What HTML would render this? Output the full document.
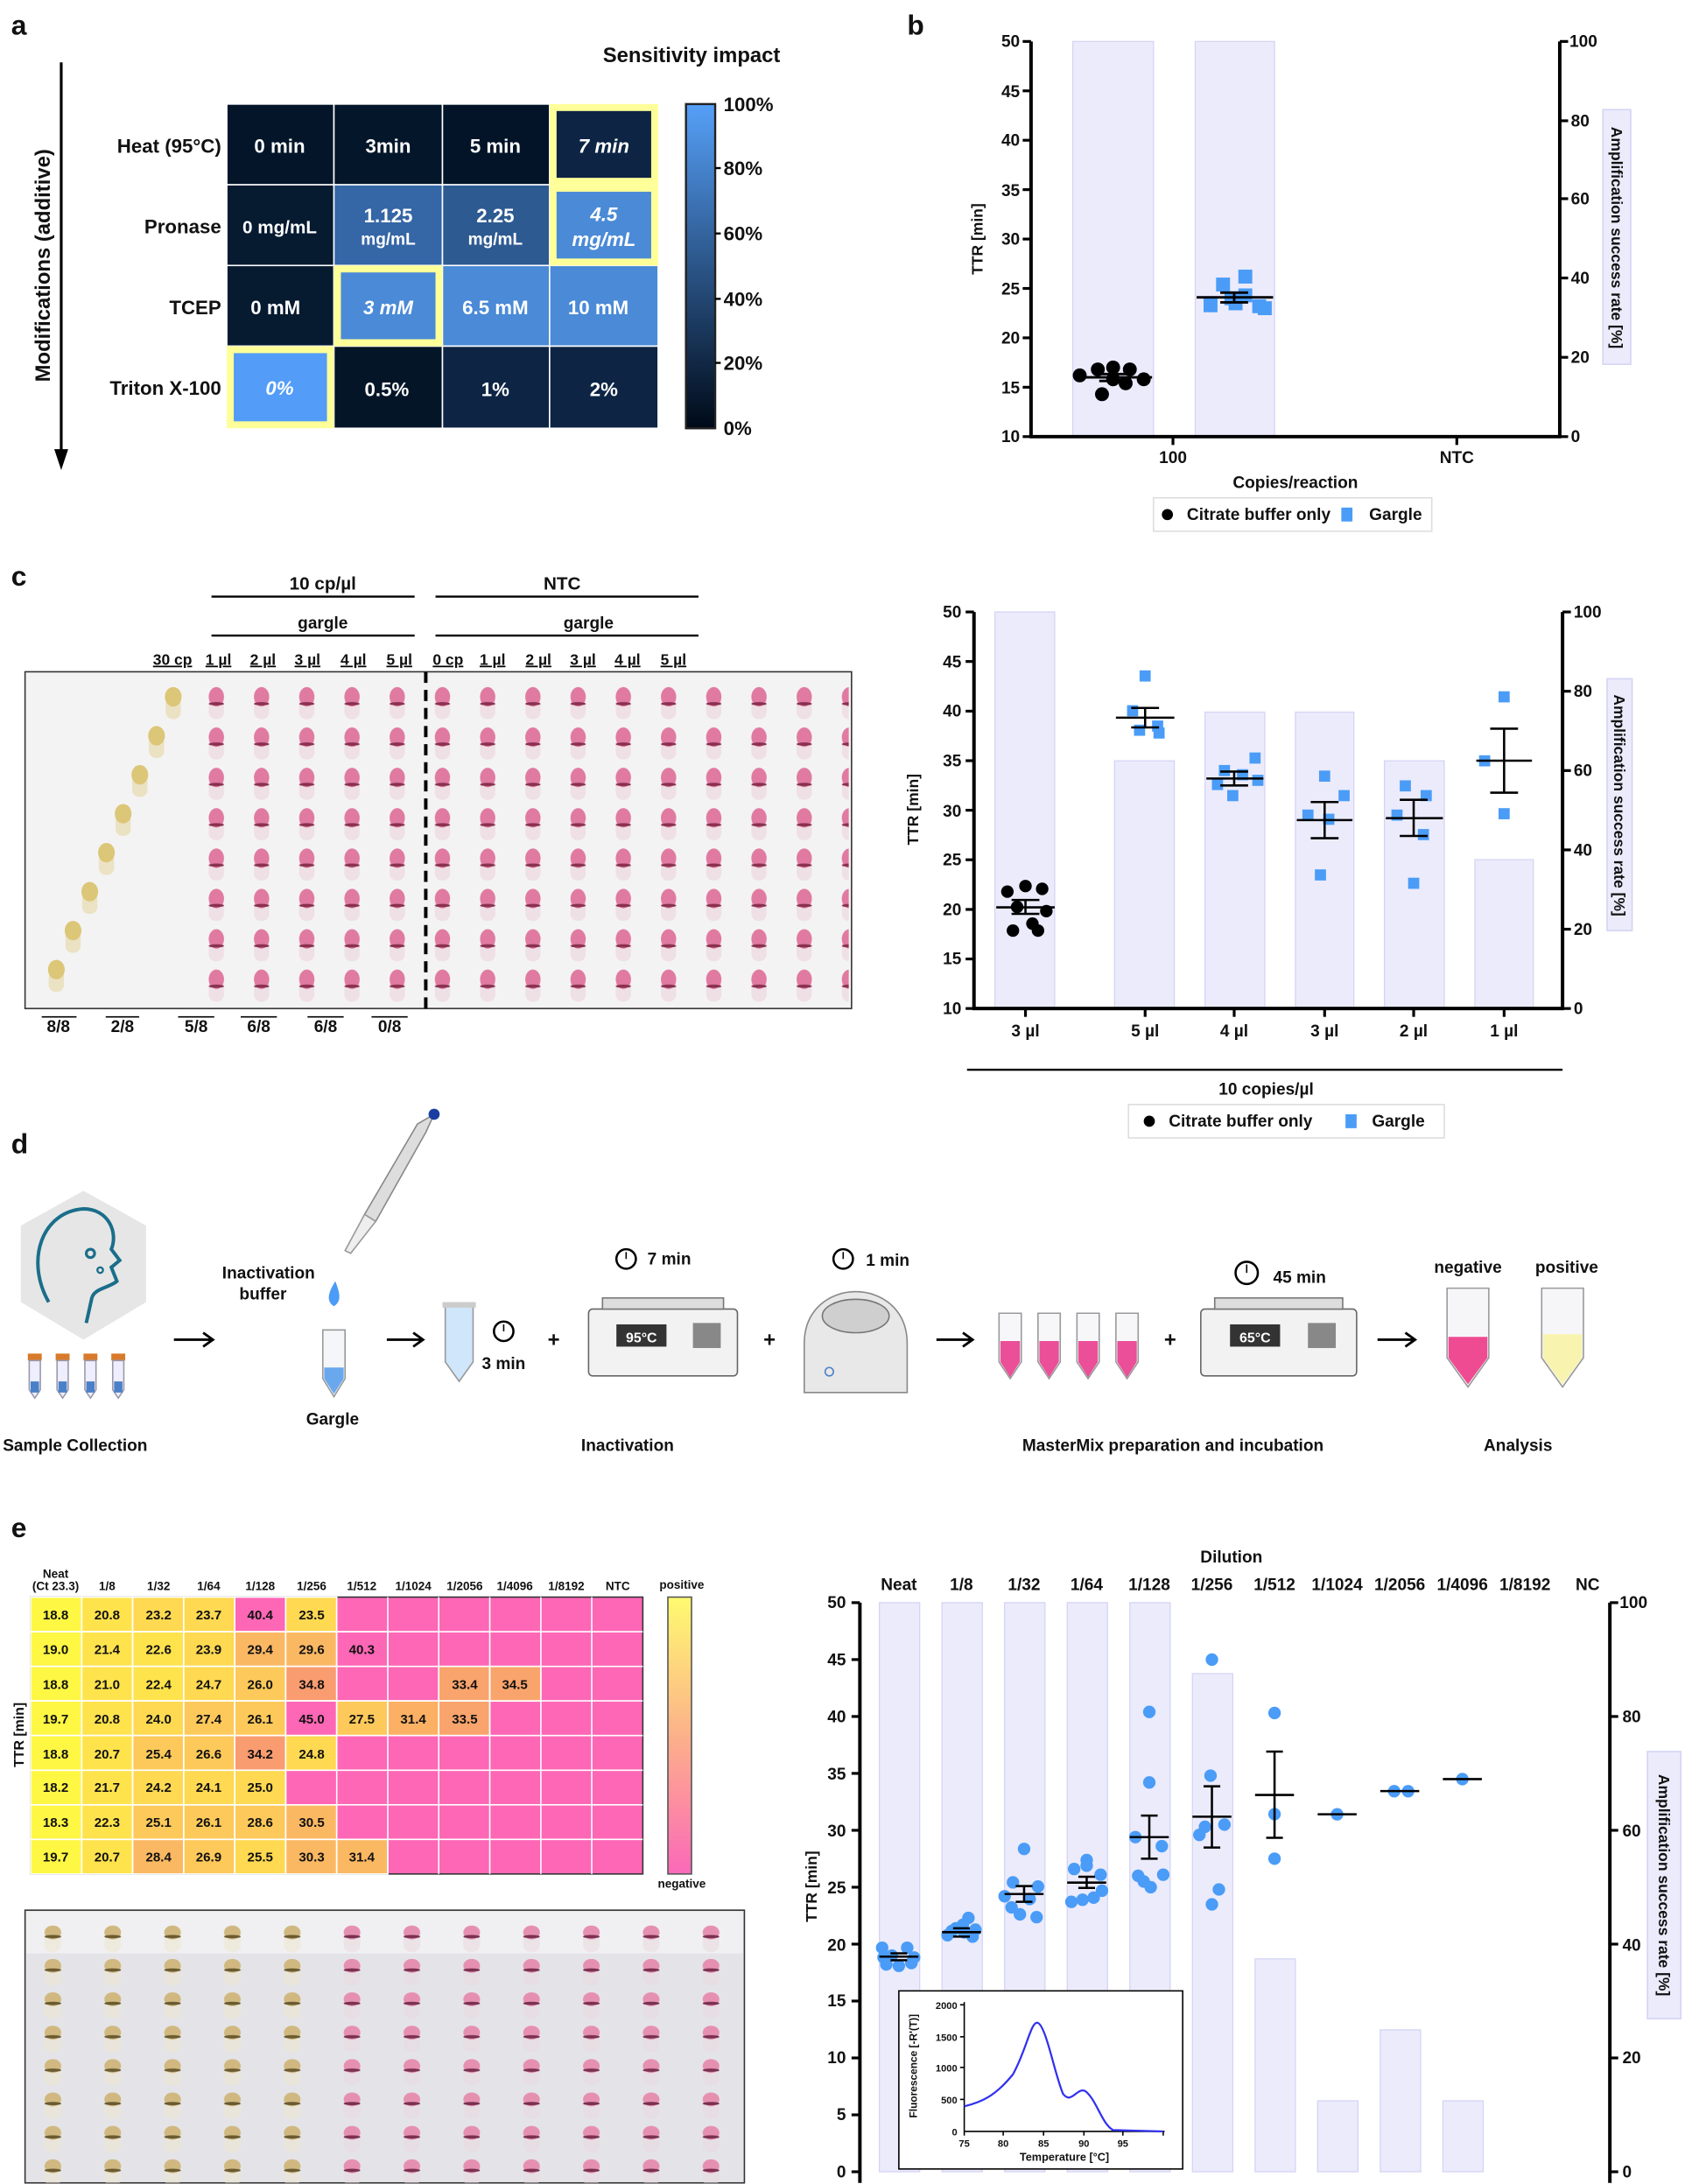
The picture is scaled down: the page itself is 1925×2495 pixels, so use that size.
<!DOCTYPE html>
<html><head><meta charset="utf-8"><style>
html,body{margin:0;padding:0;background:#fff;}
svg{display:block;}
text{font-family:"Liberation Sans",Arial,sans-serif;font-weight:bold;fill:#111;}
text.w{fill:#fff;}
.n{font-stretch:condensed;}
</style></head><body>
<svg width="1925" height="2495" viewBox="0 0 1211 1568" xmlns="http://www.w3.org/2000/svg">
<defs>
<linearGradient id="cbA" x1="0" y1="1" x2="0" y2="0"><stop offset="0" stop-color="#000a18"/><stop offset="1" stop-color="#56a0f8"/></linearGradient>
<linearGradient id="cbE" x1="0" y1="0" x2="0" y2="1"><stop offset="0" stop-color="#fffa70"/><stop offset="0.5" stop-color="#fcb18a"/><stop offset="1" stop-color="#fb69b8"/></linearGradient>
<pattern id="tp" x="140" y="490" width="32.5" height="29" patternUnits="userSpaceOnUse">
<rect x="10" y="10" width="11" height="16" rx="5" fill="#ebd4dc" opacity="0.6"/><ellipse cx="15.5" cy="10" rx="5.5" ry="7" fill="#e07aa0"/><ellipse cx="15.5" cy="15" rx="5.5" ry="1.2" fill="#8a3050"/></pattern>
<pattern id="ep" x="20" y="1380" width="43" height="24" patternUnits="userSpaceOnUse">
<rect x="12" y="8" width="12" height="14" rx="5" fill="#eadbe0" opacity="0.6"/><ellipse cx="18" cy="8" rx="6" ry="5" fill="#e690b0"/><ellipse cx="18" cy="11" rx="6" ry="1.2" fill="#7a3050"/></pattern>
<pattern id="ey" x="20" y="1380" width="43" height="24" patternUnits="userSpaceOnUse">
<rect x="12" y="8" width="12" height="14" rx="5" fill="#eee6d0" opacity="0.6"/><ellipse cx="18" cy="8" rx="6" ry="5" fill="#d0b880"/><ellipse cx="18" cy="11" rx="6" ry="1.2" fill="#6a5a30"/></pattern>
</defs>

<!-- ===== PANEL A ===== -->
<text x="8" y="24" font-size="20">a</text>
<text x="497" y="44" font-size="15" text-anchor="middle" class="n">Sensitivity impact</text>
<line x1="44" y1="44" x2="44" y2="326" stroke="#000" stroke-width="2"/>
<path d="M39,322 L49,322 L44,337 z" fill="#000"/>
<text transform="translate(36,190) rotate(-90)" font-size="15" text-anchor="middle">Modifications (additive)</text>
<g stroke="#fff" stroke-width="1">
<rect x="163" y="74" width="77" height="58" fill="#04152a"/><rect x="240" y="74" width="78" height="58" fill="#041629"/><rect x="318" y="74" width="77" height="58" fill="#031428"/><rect x="395" y="74" width="78" height="58" fill="#0d2444"/>
<rect x="163" y="132" width="77" height="58" fill="#061a30"/><rect x="240" y="132" width="78" height="58" fill="#3566a6"/><rect x="318" y="132" width="77" height="58" fill="#2e5a92"/><rect x="395" y="132" width="78" height="58" fill="#4a8ad6"/>
<rect x="163" y="190" width="77" height="58" fill="#061a30"/><rect x="240" y="190" width="78" height="58" fill="#4a8ad6"/><rect x="318" y="190" width="77" height="58" fill="#4a8ad6"/><rect x="395" y="190" width="78" height="58" fill="#4a8ad6"/>
<rect x="163" y="248" width="77" height="59" fill="#539cf7"/><rect x="240" y="248" width="78" height="59" fill="#051528"/><rect x="318" y="248" width="77" height="59" fill="#0d2444"/><rect x="395" y="248" width="78" height="59" fill="#0d2444"/>
</g>
<g fill="none" stroke="#ffff99" stroke-width="5">
<rect x="397.5" y="76.5" width="73" height="53"/><rect x="397.5" y="134.5" width="73" height="53"/><rect x="242.5" y="192.5" width="73" height="53"/><rect x="165.5" y="250.5" width="72" height="54"/>
</g>
<g font-size="14" text-anchor="end" class="n"><text x="159" y="109">Heat (95°C)</text><text x="159" y="167">Pronase</text><text x="159" y="225">TCEP</text><text x="159" y="283">Triton X-100</text></g>
<g font-size="14" text-anchor="middle">
<text class="w n" x="201" y="109">0 min</text><text class="w n" x="279" y="109">3min</text><text class="w n" x="356" y="109">5 min</text><text class="w n" x="434" y="109" font-style="italic">7 min</text>
<text class="w n" x="201" y="167" font-size="13">0 mg/mL</text><text class="w n" x="279" y="159">1.125</text><text class="w n" x="279" y="175" font-size="12">mg/mL</text><text class="w n" x="356" y="159">2.25</text><text class="w n" x="356" y="175" font-size="12">mg/mL</text><text class="w n" x="434" y="158" font-style="italic">4.5</text><text class="w n" x="434" y="176" font-style="italic">mg/mL</text>
<text class="w n" x="198" y="225">0 mM</text><text class="w n" x="279" y="225" font-style="italic">3 mM</text><text class="w n" x="356" y="225">6.5 mM</text><text class="w n" x="430" y="225">10 mM</text>
<text class="w n" x="201" y="283" font-style="italic">0%</text><text class="w n" x="278" y="284">0.5%</text><text class="w n" x="356" y="284">1%</text><text class="w n" x="434" y="284">2%</text>
</g>
<rect x="493" y="74" width="21" height="233" fill="url(#cbA)" stroke="#222" stroke-width="1.5"/>
<g stroke="#000" stroke-width="1.5"><line x1="514" y1="120" x2="518" y2="120"/><line x1="514" y1="167" x2="518" y2="167"/><line x1="514" y1="214" x2="518" y2="214"/><line x1="514" y1="260" x2="518" y2="260"/></g>
<g font-size="14" class="n"><text x="520" y="79">100%</text><text x="520" y="125">80%</text><text x="520" y="172">60%</text><text x="520" y="219">40%</text><text x="520" y="265">20%</text><text x="520" y="312">0%</text></g>

<!-- ===== PANEL B ===== -->
<text x="652" y="24" font-size="20">b</text>
<rect x="771" y="29" width="58" height="284" fill="#ebebfc" stroke="#d4d4f4" stroke-width="0.8"/>
<rect x="859" y="29" width="57" height="284" fill="#ebebfc" stroke="#d4d4f4" stroke-width="0.8"/>
<g stroke="#000" stroke-width="2.5"><line x1="741" y1="29" x2="741" y2="314"/><line x1="740" y1="313" x2="1122" y2="313"/><line x1="1121" y1="29" x2="1121" y2="314"/></g>
<g stroke="#000" stroke-width="2">
<line x1="735" y1="29" x2="741" y2="29"/><line x1="735" y1="64.5" x2="741" y2="64.5"/><line x1="735" y1="100" x2="741" y2="100"/><line x1="735" y1="135.5" x2="741" y2="135.5"/><line x1="735" y1="171" x2="741" y2="171"/><line x1="735" y1="206.5" x2="741" y2="206.5"/><line x1="735" y1="242" x2="741" y2="242"/><line x1="735" y1="277.5" x2="741" y2="277.5"/><line x1="735" y1="313" x2="741" y2="313"/>
<line x1="1121" y1="29" x2="1127" y2="29"/><line x1="1121" y1="86" x2="1127" y2="86"/><line x1="1121" y1="142" x2="1127" y2="142"/><line x1="1121" y1="199" x2="1127" y2="199"/><line x1="1121" y1="256" x2="1127" y2="256"/><line x1="1121" y1="313" x2="1127" y2="313"/>
<line x1="843" y1="313" x2="843" y2="319"/><line x1="1047" y1="313" x2="1047" y2="319"/></g>
<g font-size="12" text-anchor="end" class="n"><text x="733" y="33">50</text><text x="733" y="69">45</text><text x="733" y="104">40</text><text x="733" y="140">35</text><text x="733" y="175">30</text><text x="733" y="211">25</text><text x="733" y="246">20</text><text x="733" y="282">15</text><text x="733" y="317">10</text></g>
<g font-size="12" class="n"><text x="1128" y="33">100</text><text x="1129" y="90">80</text><text x="1129" y="146">60</text><text x="1129" y="203">40</text><text x="1129" y="260">20</text><text x="1129" y="317">0</text></g>
<text x="843" y="332" font-size="12" text-anchor="middle" class="n">100</text><text x="1047" y="332" font-size="12" text-anchor="middle" class="n">NTC</text>
<text x="931" y="350" font-size="12" text-anchor="middle" class="n">Copies/reaction</text>
<text transform="translate(706,171) rotate(-90)" font-size="11" text-anchor="middle" font-weight="normal">TTR [min]</text>
<rect x="1152" y="78" width="20" height="183" fill="#ebebfc" stroke="#d4d4f4"/>
<text transform="translate(1158,170) rotate(90)" font-size="11" text-anchor="middle" font-weight="normal">Amplification success rate [%]</text>
<rect x="829" y="357" width="200" height="24" fill="#fff" stroke="#ddd"/>
<circle cx="839" cy="369" r="4" fill="#000"/><text x="853" y="373" font-size="12" class="n">Citrate buffer only</text>
<rect x="964" y="364" width="8" height="10" fill="#4a9cf7"/><text x="984" y="373" font-size="12" class="n">Gargle</text>
<g fill="#4a9cf7">
<rect x="865" y="213.6" width="10" height="10"/><rect x="874" y="198.7" width="10" height="10"/><rect x="890" y="193" width="10" height="10"/><rect x="880" y="208.6" width="10" height="10"/><rect x="900" y="214.3" width="10" height="10"/><rect x="890" y="206.5" width="10" height="10"/><rect x="883" y="212.2" width="10" height="10"/><rect x="904" y="215.7" width="10" height="10"/></g>
<g fill="#000">
<circle cx="776" cy="269" r="5"/><circle cx="789" cy="264.7" r="5"/><circle cx="800" cy="263.3" r="5"/><circle cx="812" cy="264.7" r="5"/><circle cx="800" cy="271.8" r="5"/><circle cx="809" cy="274.7" r="5"/><circle cx="822" cy="271.8" r="5"/><circle cx="792" cy="282.5" r="5"/></g>
<g stroke="#000" stroke-width="1.8"><line x1="772" y1="270.4" x2="828" y2="270.4"/><line x1="790" y1="268" x2="810" y2="268"/><line x1="790" y1="273" x2="810" y2="273"/><line x1="860" y1="212.9" x2="915" y2="212.9"/><line x1="877" y1="209.5" x2="897" y2="209.5"/><line x1="877" y1="216.5" x2="897" y2="216.5"/><line x1="887" y1="209.5" x2="887" y2="216.5"/></g>

<!-- ===== PANEL C ===== -->
<text x="8" y="420" font-size="20">c</text>
<text x="232" y="423" font-size="13" text-anchor="middle">10 cp/µl</text><line x1="152" y1="428" x2="298" y2="428" stroke="#000" stroke-width="1.5"/>
<text x="232" y="451" font-size="12" text-anchor="middle">gargle</text><line x1="152" y1="456" x2="298" y2="456" stroke="#000" stroke-width="1.5"/>
<text x="404" y="423" font-size="13" text-anchor="middle">NTC</text><line x1="313" y1="428" x2="502" y2="428" stroke="#000" stroke-width="1.5"/>
<text x="423" y="451" font-size="12" text-anchor="middle">gargle</text><line x1="313" y1="456" x2="502" y2="456" stroke="#000" stroke-width="1.5"/>
<g font-size="11" text-anchor="middle" class="n" text-decoration="underline">
<text x="124" y="477">30 cp</text><text x="157" y="477">1 µl</text><text x="189" y="477">2 µl</text><text x="221" y="477">3 µl</text><text x="254" y="477">4 µl</text><text x="287" y="477">5 µl</text>
<text x="322" y="477">0 cp</text><text x="354" y="477">1 µl</text><text x="387" y="477">2 µl</text><text x="419" y="477">3 µl</text><text x="451" y="477">4 µl</text><text x="484" y="477">5 µl</text></g>
<rect x="18" y="482" width="594" height="242" fill="#f4f3f3" stroke="#333" stroke-width="1"/>
<rect x="140" y="490" width="470" height="232" fill="url(#tp)"/>
<g><g fill="#e8dcb0" opacity="0.7"><rect x="119" y="500" width="11" height="16" rx="5"/><rect x="107" y="528" width="11" height="16" rx="5"/><rect x="95" y="556" width="11" height="16" rx="5"/><rect x="83" y="584" width="11" height="16" rx="5"/><rect x="71" y="612" width="11" height="16" rx="5"/><rect x="59" y="640" width="11" height="16" rx="5"/><rect x="47" y="668" width="11" height="16" rx="5"/><rect x="35" y="696" width="11" height="16" rx="5"/></g>
<g fill="#dcc677"><ellipse cx="124.5" cy="500" rx="6" ry="7"/><ellipse cx="112.5" cy="528" rx="6" ry="7"/><ellipse cx="100.5" cy="556" rx="6" ry="7"/><ellipse cx="88.5" cy="584" rx="6" ry="7"/><ellipse cx="76.5" cy="612" rx="6" ry="7"/><ellipse cx="64.5" cy="640" rx="6" ry="7"/><ellipse cx="52.5" cy="668" rx="6" ry="7"/><ellipse cx="40.5" cy="696" rx="6" ry="7"/></g></g>
<line x1="306" y1="482" x2="306" y2="724" stroke="#000" stroke-width="2.5" stroke-dasharray="8,5"/>
<g stroke="#000" stroke-width="1"><line x1="30" y1="730" x2="55" y2="730"/><line x1="76" y1="730" x2="100" y2="730"/><line x1="128" y1="730" x2="154" y2="730"/><line x1="173" y1="730" x2="199" y2="730"/><line x1="221" y1="730" x2="247" y2="730"/><line x1="267" y1="730" x2="293" y2="730"/></g>
<g font-size="12" text-anchor="middle" class="n"><text x="42" y="741">8/8</text><text x="88" y="741">2/8</text><text x="141" y="741">5/8</text><text x="186" y="741">6/8</text><text x="234" y="741">6/8</text><text x="280" y="741">0/8</text></g>

<!-- c chart -->
<g fill="#ebebfc" stroke="#d4d4f4" stroke-width="0.8">
<rect x="715" y="439" width="43" height="285"/><rect x="801" y="546" width="43" height="178"/><rect x="866" y="511" width="43" height="213"/><rect x="931" y="511" width="42" height="213"/><rect x="995" y="546" width="43" height="178"/><rect x="1060" y="617" width="42" height="107"/></g>
<g stroke="#000" stroke-width="2.5"><line x1="700" y1="439" x2="700" y2="725"/><line x1="699" y1="724" x2="1124" y2="724"/><line x1="1123" y1="439" x2="1123" y2="725"/></g>
<g stroke="#000" stroke-width="2">
<line x1="694" y1="439" x2="700" y2="439"/><line x1="694" y1="474.6" x2="700" y2="474.6"/><line x1="694" y1="510.3" x2="700" y2="510.3"/><line x1="694" y1="545.9" x2="700" y2="545.9"/><line x1="694" y1="581.5" x2="700" y2="581.5"/><line x1="694" y1="617.1" x2="700" y2="617.1"/><line x1="694" y1="652.8" x2="700" y2="652.8"/><line x1="694" y1="688.4" x2="700" y2="688.4"/><line x1="694" y1="724" x2="700" y2="724"/>
<line x1="1123" y1="439" x2="1129" y2="439"/><line x1="1123" y1="496" x2="1129" y2="496"/><line x1="1123" y1="553" x2="1129" y2="553"/><line x1="1123" y1="610" x2="1129" y2="610"/><line x1="1123" y1="667" x2="1129" y2="667"/><line x1="1123" y1="724" x2="1129" y2="724"/>
<line x1="737" y1="724" x2="737" y2="730"/><line x1="823" y1="724" x2="823" y2="730"/><line x1="887" y1="724" x2="887" y2="730"/><line x1="952" y1="724" x2="952" y2="730"/><line x1="1016" y1="724" x2="1016" y2="730"/><line x1="1081" y1="724" x2="1081" y2="730"/></g>
<g font-size="12" text-anchor="end" class="n"><text x="691" y="443">50</text><text x="691" y="479">45</text><text x="691" y="514">40</text><text x="691" y="550">35</text><text x="691" y="586">30</text><text x="691" y="621">25</text><text x="691" y="657">20</text><text x="691" y="692">15</text><text x="691" y="728">10</text></g>
<g font-size="12" class="n"><text x="1131" y="443">100</text><text x="1131" y="500">80</text><text x="1131" y="557">60</text><text x="1131" y="614">40</text><text x="1131" y="671">20</text><text x="1131" y="728">0</text></g>
<g font-size="12" text-anchor="middle" class="n"><text x="737" y="744">3 µl</text><text x="823" y="744">5 µl</text><text x="887" y="744">4 µl</text><text x="952" y="744">3 µl</text><text x="1016" y="744">2 µl</text><text x="1081" y="744">1 µl</text></g>
<line x1="695" y1="768" x2="1123" y2="768" stroke="#000" stroke-width="1.5"/>
<text x="910" y="786" font-size="12" text-anchor="middle" class="n">10 copies/µl</text>
<text transform="translate(660,581) rotate(-90)" font-size="11" text-anchor="middle" font-weight="normal">TTR [min]</text>
<rect x="1155" y="487" width="18" height="181" fill="#ebebfc" stroke="#d4d4f4"/>
<text transform="translate(1160,578) rotate(90)" font-size="11" text-anchor="middle" font-weight="normal">Amplification success rate [%]</text>
<rect x="811" y="793" width="227" height="24" fill="#fff" stroke="#ddd"/>
<circle cx="826" cy="805" r="4" fill="#000"/><text x="840" y="809" font-size="12" class="n">Citrate buffer only</text>
<rect x="967" y="800" width="8" height="10" fill="#4a9cf7"/><text x="986" y="809" font-size="12" class="n">Gargle</text>
<g fill="#000"><circle cx="724" cy="640" r="4.5"/><circle cx="737" cy="636" r="4.5"/><circle cx="749" cy="638" r="4.5"/><circle cx="731" cy="651" r="4.5"/><circle cx="752" cy="654" r="4.5"/><circle cx="742" cy="663" r="4.5"/><circle cx="728" cy="668" r="4.5"/><circle cx="746" cy="668" r="4.5"/></g>
<g fill="#4a9cf7">
<rect x="819" y="481" width="8" height="8"/><rect x="810" y="506" width="8" height="8"/><rect x="828" y="517" width="8" height="8"/><rect x="815" y="520" width="8" height="8"/><rect x="829" y="522" width="8" height="8"/>
<rect x="898" y="540" width="8" height="8"/><rect x="876" y="549" width="8" height="8"/><rect x="889" y="552" width="8" height="8"/><rect x="900" y="556" width="8" height="8"/><rect x="871" y="559" width="8" height="8"/><rect x="882" y="567" width="8" height="8"/>
<rect x="948" y="553" width="8" height="8"/><rect x="962" y="567" width="8" height="8"/><rect x="936" y="581" width="8" height="8"/><rect x="951" y="584" width="8" height="8"/><rect x="945" y="624" width="8" height="8"/>
<rect x="1006" y="560" width="8" height="8"/><rect x="1021" y="567" width="8" height="8"/><rect x="1000" y="581" width="8" height="8"/><rect x="1019" y="595" width="8" height="8"/><rect x="1012" y="630" width="8" height="8"/>
<rect x="1077" y="496" width="8" height="8"/><rect x="1063" y="542" width="8" height="8"/><rect x="1077" y="580" width="8" height="8"/></g>
<g stroke="#000" stroke-width="1.6" fill="none">
<path d="M716,651.3 H758 M727,646 H747 M727,656 H747 M737,646 V656"/>
<path d="M802,515 H844 M813,508 H833 M813,522 H833 M823,508 V522"/>
<path d="M867,558.7 H908 M877,553.7 H897 M877,563.7 H897 M887,553.7 V563.7"/>
<path d="M932,588.6 H972 M942,575.6 H962 M942,601.6 H962 M952,575.6 V601.6"/>
<path d="M996,587.2 H1037 M1006,574 H1026 M1006,600 H1026 M1016,574 V600"/>
<path d="M1061,545.9 H1101 M1071,522.9 H1091 M1071,568.9 H1091 M1081,522.9 V568.9"/></g>

<!-- ===== PANEL D ===== -->
<text x="8" y="828" font-size="20">d</text>
<path d="M60,855 L105,880 L105,935 L60,962 L15,935 L15,880 z" fill="#e6e6e6"/>
<path d="M35,935 C18,905 30,870 60,868 C78,868 85,885 80,897 L86,905 L80,910 L84,920 C78,925 68,925 66,932 L62,950" fill="none" stroke="#1a6e8a" stroke-width="2.5"/>
<circle cx="65" cy="900" r="3" fill="none" stroke="#1a6e8a" stroke-width="2"/><circle cx="72" cy="912" r="2" fill="none" stroke="#1a6e8a" stroke-width="1.5"/>
<g><rect x="20" y="972" width="10" height="5" fill="#d87a2a"/><path d="M21,977 L29,977 L29,998 L25,1004 L21,998 z" fill="#eef" stroke="#99a"/><rect x="22" y="992" width="6" height="8" fill="#4a80c8"/>
<rect x="40" y="972" width="10" height="5" fill="#d87a2a"/><path d="M41,977 L49,977 L49,998 L45,1004 L41,998 z" fill="#eef" stroke="#99a"/><rect x="42" y="992" width="6" height="8" fill="#4a80c8"/>
<rect x="60" y="972" width="10" height="5" fill="#d87a2a"/><path d="M61,977 L69,977 L69,998 L65,1004 L61,998 z" fill="#eef" stroke="#99a"/><rect x="62" y="992" width="6" height="8" fill="#4a80c8"/>
<rect x="80" y="972" width="10" height="5" fill="#d87a2a"/><path d="M81,977 L89,977 L89,998 L85,1004 L81,998 z" fill="#eef" stroke="#99a"/><rect x="82" y="992" width="6" height="8" fill="#4a80c8"/></g>
<text x="54" y="1042" font-size="12" text-anchor="middle" class="n">Sample Collection</text>
<g stroke="#000" stroke-width="1.8" fill="none"><path d="M125,962 H152 M146,957 L153,962 L146,967"/><path d="M278,962 H303 M297,957 L304,962 L297,967"/><path d="M673,962 H698 M692,957 L699,962 L692,967"/><path d="M990,962 H1016 M1010,957 L1017,962 L1010,967"/></g>
<path d="M312,800 L300,807 L262,872 L270,877 L306,813 z" fill="#ddd" stroke="#888"/>
<path d="M262,872 L248,898 L252,900 L270,877 z" fill="#eee" stroke="#999"/><circle cx="312" cy="800" r="4" fill="#1a3ea0"/>
<path d="M241,920 C236,928 234,934 240,938 C246,934 244,928 241,920 z" fill="#4a9cf7"/>
<text x="193" y="918" font-size="12" text-anchor="middle" class="n">Inactivation</text><text x="189" y="933" font-size="12" text-anchor="middle" class="n">buffer</text>
<path d="M232,955 L248,955 L248,990 L240,1003 L232,990 z" fill="#f4f6fa" stroke="#999"/><path d="M233,982 L247,982 L247,990 L240,1001 L233,990 z" fill="#6aa8ee"/>
<text x="239" y="1023" font-size="12" text-anchor="middle" class="n">Gargle</text>
<path d="M320,938 L340,938 L340,978 L330,992 L320,978 z" fill="#cfe6fb" stroke="#999"/><rect x="318" y="935" width="24" height="4" fill="#ccc"/>
<circle cx="362" cy="956" r="7" fill="none" stroke="#000" stroke-width="1.6"/><line x1="362" y1="956" x2="362" y2="951" stroke="#000"/>
<text x="362" y="983" font-size="12" text-anchor="middle" class="n">3 min</text>
<text x="398" y="967" font-size="15" text-anchor="middle">+</text>
<g><rect x="423" y="940" width="107" height="48" rx="3" fill="#f2f2f2" stroke="#666"/><rect x="433" y="932" width="87" height="8" fill="#ddd" stroke="#777"/><rect x="443" y="951" width="36" height="16" fill="#333"/><text class="w" x="461" y="964" font-size="10" text-anchor="middle" font-weight="normal">95°C</text><rect x="498" y="950" width="20" height="18" fill="#888"/></g>
<circle cx="450" cy="904" r="7" fill="none" stroke="#000" stroke-width="1.6"/><line x1="450" y1="904" x2="450" y2="899" stroke="#000"/><text x="481" y="908" font-size="12" text-anchor="middle" class="n">7 min</text>
<text x="553" y="967" font-size="15" text-anchor="middle">+</text>
<path d="M578,1000 L578,965 C578,915 652,915 652,965 L652,1000 z" fill="#e8e8e8" stroke="#888"/><ellipse cx="615" cy="945" rx="24" ry="12" fill="#cfcfcf" stroke="#777"/><circle cx="596" cy="985" r="3" fill="none" stroke="#4a80c8"/>
<circle cx="606" cy="904" r="7" fill="none" stroke="#000" stroke-width="1.6"/><line x1="606" y1="904" x2="606" y2="899" stroke="#000"/><text x="638" y="909" font-size="12" text-anchor="middle" class="n">1 min</text>
<g fill="#f7f7fa" stroke="#999">
<path d="M718,943 L734,943 L734,978 L726,990 L718,978 z"/><path d="M746,943 L762,943 L762,978 L754,990 L746,978 z"/><path d="M774,943 L790,943 L790,978 L782,990 L774,978 z"/><path d="M802,943 L818,943 L818,978 L810,990 L802,978 z"/></g>
<g fill="#ea4f98"><path d="M719,963 L733,963 L733,978 L726,989 L719,978 z"/><path d="M747,963 L761,963 L761,978 L754,989 L747,978 z"/><path d="M775,963 L789,963 L789,978 L782,989 L775,978 z"/><path d="M803,963 L817,963 L817,978 L810,989 L803,978 z"/></g>
<text x="841" y="967" font-size="15" text-anchor="middle">+</text>
<g><rect x="863" y="940" width="112" height="48" rx="3" fill="#f2f2f2" stroke="#666"/><rect x="873" y="932" width="92" height="8" fill="#ddd" stroke="#777"/><rect x="884" y="951" width="36" height="16" fill="#333"/><text class="w" x="902" y="964" font-size="10" text-anchor="middle" font-weight="normal">65°C</text><rect x="940" y="950" width="20" height="18" fill="#888"/></g>
<circle cx="896" cy="914" r="8" fill="none" stroke="#000" stroke-width="1.6"/><line x1="896" y1="914" x2="896" y2="908" stroke="#000"/><text x="934" y="921" font-size="12" text-anchor="middle" class="n">45 min</text>
<text x="1055" y="914" font-size="12" text-anchor="middle" class="n">negative</text><text x="1126" y="914" font-size="12" text-anchor="middle" class="n">positive</text>
<path d="M1040,925 L1070,925 L1070,975 L1055,996 L1040,975 z" fill="#f6f6f8" stroke="#999"/><path d="M1041,960 L1069,960 L1069,975 L1055,994 L1041,975 z" fill="#ee4b92"/>
<path d="M1108,925 L1138,925 L1138,975 L1123,996 L1108,975 z" fill="#f6f6f8" stroke="#999"/><path d="M1109,958 L1137,958 L1137,975 L1123,994 L1109,975 z" fill="#f8f4b0"/>
<g font-size="12" text-anchor="middle" class="n"><text x="451" y="1042">Inactivation</text><text x="843" y="1042">MasterMix preparation and incubation</text><text x="1091" y="1042">Analysis</text></g>

<!-- ===== PANEL E ===== -->
<text x="8" y="1104" font-size="20">e</text>
<g font-size="8.5" text-anchor="middle" class="n">
<text x="40" y="1133">Neat</text><text x="40" y="1142">(Ct 23.3)</text><text x="77" y="1142">1/8</text><text x="114" y="1142">1/32</text><text x="150" y="1142">1/64</text><text x="187" y="1142">1/128</text><text x="224" y="1142">1/256</text><text x="260" y="1142">1/512</text><text x="297" y="1142">1/1024</text><text x="334" y="1142">1/2056</text><text x="370" y="1142">1/4096</text><text x="407" y="1142">1/8192</text><text x="444" y="1142">NTC</text>
<text x="490" y="1141">positive</text><text x="490" y="1356">negative</text></g>
<text transform="translate(17,1246) rotate(-90)" font-size="10" text-anchor="middle" font-weight="normal">TTR [min]</text>
<rect x="22" y="1147" width="440" height="199" fill="#fd67b6" stroke="#333"/>
<g stroke="#fff" stroke-width="1">
<rect x="22" y="1147" width="36.7" height="24.9" fill="#fef744"/><rect x="58.7" y="1147" width="36.7" height="24.9" fill="#ffe34d"/><rect x="95.3" y="1147" width="36.7" height="24.9" fill="#fed951"/><rect x="132" y="1147" width="36.7" height="24.9" fill="#fed951"/><rect x="168.7" y="1147" width="36.7" height="24.9" fill="#fd67b6"/><rect x="205.3" y="1147" width="36.7" height="24.9" fill="#fed951"/>
<rect x="22" y="1171.9" width="36.7" height="24.9" fill="#fef744"/><rect x="58.7" y="1171.9" width="36.7" height="24.9" fill="#ffe34d"/><rect x="95.3" y="1171.9" width="36.7" height="24.9" fill="#ffe34d"/><rect x="132" y="1171.9" width="36.7" height="24.9" fill="#fed951"/><rect x="168.7" y="1171.9" width="36.7" height="24.9" fill="#fbb863"/><rect x="205.3" y="1171.9" width="36.7" height="24.9" fill="#fbb863"/><rect x="242" y="1171.9" width="36.7" height="24.9" fill="#fd67b6"/>
<rect x="22" y="1196.8" width="36.7" height="24.9" fill="#fef744"/><rect x="58.7" y="1196.8" width="36.7" height="24.9" fill="#ffe34d"/><rect x="95.3" y="1196.8" width="36.7" height="24.9" fill="#ffe34d"/><rect x="132" y="1196.8" width="36.7" height="24.9" fill="#fed951"/><rect x="168.7" y="1196.8" width="36.7" height="24.9" fill="#fdc95a"/><rect x="205.3" y="1196.8" width="36.7" height="24.9" fill="#f99c70"/><rect x="315.3" y="1196.8" width="36.7" height="24.9" fill="#f9a46c"/><rect x="352" y="1196.8" width="36.7" height="24.9" fill="#f9a46c"/>
<rect x="22" y="1221.6" width="36.7" height="24.9" fill="#fef744"/><rect x="58.7" y="1221.6" width="36.7" height="24.9" fill="#ffe34d"/><rect x="95.3" y="1221.6" width="36.7" height="24.9" fill="#fed951"/><rect x="132" y="1221.6" width="36.7" height="24.9" fill="#fdc95a"/><rect x="168.7" y="1221.6" width="36.7" height="24.9" fill="#fdc95a"/><rect x="205.3" y="1221.6" width="36.7" height="24.9" fill="#fd67b6"/><rect x="242" y="1221.6" width="36.7" height="24.9" fill="#fdc95a"/><rect x="278.7" y="1221.6" width="36.7" height="24.9" fill="#fbb064"/><rect x="315.3" y="1221.6" width="36.7" height="24.9" fill="#f9a46c"/>
<rect x="22" y="1246.5" width="36.7" height="24.9" fill="#fef744"/><rect x="58.7" y="1246.5" width="36.7" height="24.9" fill="#ffe34d"/><rect x="95.3" y="1246.5" width="36.7" height="24.9" fill="#fdc95a"/><rect x="132" y="1246.5" width="36.7" height="24.9" fill="#fdc95a"/><rect x="168.7" y="1246.5" width="36.7" height="24.9" fill="#f99c70"/><rect x="205.3" y="1246.5" width="36.7" height="24.9" fill="#fed951"/>
<rect x="22" y="1271.4" width="36.7" height="24.9" fill="#fef744"/><rect x="58.7" y="1271.4" width="36.7" height="24.9" fill="#ffe34d"/><rect x="95.3" y="1271.4" width="36.7" height="24.9" fill="#fed951"/><rect x="132" y="1271.4" width="36.7" height="24.9" fill="#fed951"/><rect x="168.7" y="1271.4" width="36.7" height="24.9" fill="#fed951"/>
<rect x="22" y="1296.3" width="36.7" height="24.9" fill="#fef744"/><rect x="58.7" y="1296.3" width="36.7" height="24.9" fill="#ffe34d"/><rect x="95.3" y="1296.3" width="36.7" height="24.9" fill="#fdc95a"/><rect x="132" y="1296.3" width="36.7" height="24.9" fill="#fdc95a"/><rect x="168.7" y="1296.3" width="36.7" height="24.9" fill="#fdc95a"/><rect x="205.3" y="1296.3" width="36.7" height="24.9" fill="#fbb863"/>
<rect x="22" y="1321.1" width="36.7" height="24.9" fill="#fef744"/><rect x="58.7" y="1321.1" width="36.7" height="24.9" fill="#ffe34d"/><rect x="95.3" y="1321.1" width="36.7" height="24.9" fill="#fbb863"/><rect x="132" y="1321.1" width="36.7" height="24.9" fill="#fdc95a"/><rect x="168.7" y="1321.1" width="36.7" height="24.9" fill="#fed951"/><rect x="205.3" y="1321.1" width="36.7" height="24.9" fill="#fbb863"/><rect x="242" y="1321.1" width="36.7" height="24.9" fill="#fbb863"/>
<g fill="none"><line x1="58.7" y1="1147" x2="58.7" y2="1346"/><line x1="95.3" y1="1147" x2="95.3" y2="1346"/><line x1="132" y1="1147" x2="132" y2="1346"/><line x1="168.7" y1="1147" x2="168.7" y2="1346"/><line x1="205.3" y1="1147" x2="205.3" y2="1346"/><line x1="242" y1="1147" x2="242" y2="1346"/><line x1="278.7" y1="1147" x2="278.7" y2="1346"/><line x1="315.3" y1="1147" x2="315.3" y2="1346"/><line x1="352" y1="1147" x2="352" y2="1346"/><line x1="388.7" y1="1147" x2="388.7" y2="1346"/><line x1="425.3" y1="1147" x2="425.3" y2="1346"/>
<line x1="22" y1="1171.9" x2="462" y2="1171.9"/><line x1="22" y1="1196.8" x2="462" y2="1196.8"/><line x1="22" y1="1221.6" x2="462" y2="1221.6"/><line x1="22" y1="1246.5" x2="462" y2="1246.5"/><line x1="22" y1="1271.4" x2="462" y2="1271.4"/><line x1="22" y1="1296.3" x2="462" y2="1296.3"/><line x1="22" y1="1321.1" x2="462" y2="1321.1"/></g>
</g>
<g font-size="9.5" text-anchor="middle" class="n">
<text x="40" y="1163">18.8</text><text x="77" y="1163">20.8</text><text x="114" y="1163">23.2</text><text x="150" y="1163">23.7</text><text x="187" y="1163">40.4</text><text x="224" y="1163">23.5</text>
<text x="40" y="1188">19.0</text><text x="77" y="1188">21.4</text><text x="114" y="1188">22.6</text><text x="150" y="1188">23.9</text><text x="187" y="1188">29.4</text><text x="224" y="1188">29.6</text><text x="260" y="1188">40.3</text>
<text x="40" y="1213">18.8</text><text x="77" y="1213">21.0</text><text x="114" y="1213">22.4</text><text x="150" y="1213">24.7</text><text x="187" y="1213">26.0</text><text x="224" y="1213">34.8</text><text x="334" y="1213">33.4</text><text x="370" y="1213">34.5</text>
<text x="40" y="1238">19.7</text><text x="77" y="1238">20.8</text><text x="114" y="1238">24.0</text><text x="150" y="1238">27.4</text><text x="187" y="1238">26.1</text><text x="224" y="1238">45.0</text><text x="260" y="1238">27.5</text><text x="297" y="1238">31.4</text><text x="334" y="1238">33.5</text>
<text x="40" y="1263">18.8</text><text x="77" y="1263">20.7</text><text x="114" y="1263">25.4</text><text x="150" y="1263">26.6</text><text x="187" y="1263">34.2</text><text x="224" y="1263">24.8</text>
<text x="40" y="1287">18.2</text><text x="77" y="1287">21.7</text><text x="114" y="1287">24.2</text><text x="150" y="1287">24.1</text><text x="187" y="1287">25.0</text>
<text x="40" y="1312">18.3</text><text x="77" y="1312">22.3</text><text x="114" y="1312">25.1</text><text x="150" y="1312">26.1</text><text x="187" y="1312">28.6</text><text x="224" y="1312">30.5</text>
<text x="40" y="1337">19.7</text><text x="77" y="1337">20.7</text><text x="114" y="1337">28.4</text><text x="150" y="1337">26.9</text><text x="187" y="1337">25.5</text><text x="224" y="1337">30.3</text><text x="260" y="1337">31.4</text></g>
<rect x="480" y="1147" width="17" height="199" fill="url(#cbE)" stroke="#555"/>
<!-- photo e -->
<rect x="18" y="1372" width="517" height="196" fill="#e4e4e8" stroke="#333"/>
<rect x="19" y="1373" width="515" height="30" fill="#f0f0f2"/>
<rect x="20" y="1380" width="215" height="188" fill="url(#ey)"/>
<rect x="235" y="1380" width="298" height="188" fill="url(#ep)"/>

<!-- e chart -->
<text x="885" y="1122" font-size="12" text-anchor="middle" class="n">Dilution</text>
<g font-size="12" text-anchor="middle" class="n"><text x="646" y="1142">Neat</text><text x="691" y="1142">1/8</text><text x="736" y="1142">1/32</text><text x="781" y="1142">1/64</text><text x="826" y="1142">1/128</text><text x="871" y="1142">1/256</text><text x="916" y="1142">1/512</text><text x="961" y="1142">1/1024</text><text x="1006" y="1142">1/2056</text><text x="1051" y="1142">1/4096</text><text x="1096" y="1142">1/8192</text><text x="1141" y="1142">NC</text></g>
<g fill="#ebebfc" stroke="#d4d4f4" stroke-width="0.8">
<rect x="632" y="1151" width="29" height="409"/><rect x="677" y="1151" width="29" height="409"/><rect x="722" y="1151" width="29" height="409"/><rect x="767" y="1151" width="29" height="409"/><rect x="812" y="1151" width="29" height="409"/><rect x="857" y="1202" width="29" height="358"/><rect x="902" y="1407" width="29" height="153"/><rect x="947" y="1509" width="29" height="51"/><rect x="992" y="1458" width="29" height="102"/><rect x="1037" y="1509" width="29" height="51"/></g>
<g stroke="#000" stroke-width="2.5"><line x1="618" y1="1151" x2="618" y2="1568"/><line x1="1157" y1="1151" x2="1157" y2="1568"/></g>
<g stroke="#000" stroke-width="2">
<line x1="612" y1="1151" x2="618" y2="1151"/><line x1="612" y1="1191.9" x2="618" y2="1191.9"/><line x1="612" y1="1232.8" x2="618" y2="1232.8"/><line x1="612" y1="1273.7" x2="618" y2="1273.7"/><line x1="612" y1="1314.6" x2="618" y2="1314.6"/><line x1="612" y1="1355.5" x2="618" y2="1355.5"/><line x1="612" y1="1396.4" x2="618" y2="1396.4"/><line x1="612" y1="1437.3" x2="618" y2="1437.3"/><line x1="612" y1="1478.2" x2="618" y2="1478.2"/><line x1="612" y1="1519.1" x2="618" y2="1519.1"/><line x1="612" y1="1560" x2="618" y2="1560"/>
<line x1="1157" y1="1151" x2="1163" y2="1151"/><line x1="1157" y1="1232.8" x2="1163" y2="1232.8"/><line x1="1157" y1="1314.6" x2="1163" y2="1314.6"/><line x1="1157" y1="1396.4" x2="1163" y2="1396.4"/><line x1="1157" y1="1478.2" x2="1163" y2="1478.2"/><line x1="1157" y1="1560" x2="1163" y2="1560"/></g>
<g font-size="12" text-anchor="end" class="n"><text x="608" y="1155">50</text><text x="608" y="1196">45</text><text x="608" y="1237">40</text><text x="608" y="1278">35</text><text x="608" y="1319">30</text><text x="608" y="1360">25</text><text x="608" y="1401">20</text><text x="608" y="1441">15</text><text x="608" y="1482">10</text><text x="608" y="1523">5</text><text x="608" y="1564">0</text></g>
<g font-size="12" class="n"><text x="1164" y="1155">100</text><text x="1166" y="1237">80</text><text x="1166" y="1319">60</text><text x="1166" y="1401">40</text><text x="1166" y="1482">20</text><text x="1166" y="1564">0</text></g>
<text transform="translate(587,1355) rotate(-90)" font-size="11" text-anchor="middle" font-weight="normal">TTR [min]</text>
<rect x="1184" y="1258" width="24" height="192" fill="#ebebfc" stroke="#d4d4f4"/>
<text transform="translate(1192,1354) rotate(90)" font-size="11" text-anchor="middle" font-weight="normal">Amplification success rate [%]</text>
<g fill="#4a9cf7">
<circle cx="635" cy="1406" r="4.5"/><circle cx="641" cy="1404.6" r="4.5"/><circle cx="646" cy="1412" r="4.5"/><circle cx="652" cy="1399" r="4.5"/><circle cx="657" cy="1406" r="4.5"/><circle cx="637" cy="1411" r="4.5"/><circle cx="655" cy="1410" r="4.5"/><circle cx="634" cy="1399" r="4.5"/>
<circle cx="681" cy="1390" r="4.5"/><circle cx="687" cy="1385" r="4.5"/><circle cx="693" cy="1388" r="4.5"/><circle cx="699" cy="1391" r="4.5"/><circle cx="692" cy="1382.5" r="4.5"/><circle cx="701" cy="1386" r="4.5"/><circle cx="684" cy="1387" r="4.5"/><circle cx="696" cy="1377.6" r="4.5"/>
<circle cx="727" cy="1370" r="4.5"/><circle cx="733" cy="1375" r="4.5"/><circle cx="745" cy="1377" r="4.5"/><circle cx="740" cy="1364" r="4.5"/><circle cx="728" cy="1352" r="4.5"/><circle cx="722" cy="1362" r="4.5"/><circle cx="746" cy="1355" r="4.5"/><circle cx="736" cy="1328" r="4.5"/>
<circle cx="770" cy="1366" r="4.5"/><circle cx="778" cy="1364.5" r="4.5"/><circle cx="792" cy="1358" r="4.5"/><circle cx="781" cy="1336" r="4.5"/><circle cx="772" cy="1342.4" r="4.5"/><circle cx="786" cy="1363" r="4.5"/><circle cx="791" cy="1346.5" r="4.5"/><circle cx="781" cy="1340" r="4.5"/>
<circle cx="826" cy="1229.5" r="4.5"/><circle cx="816" cy="1319.5" r="4.5"/><circle cx="818" cy="1347.3" r="4.5"/><circle cx="836" cy="1346.5" r="4.5"/><circle cx="826" cy="1280.2" r="4.5"/><circle cx="827" cy="1355.5" r="4.5"/><circle cx="835" cy="1326" r="4.5"/><circle cx="822" cy="1351.4" r="4.5"/>
<circle cx="871" cy="1367.8" r="4.5"/><circle cx="862" cy="1317.9" r="4.5"/><circle cx="870" cy="1275.3" r="4.5"/><circle cx="871" cy="1191.9" r="4.5"/><circle cx="876" cy="1357.1" r="4.5"/><circle cx="880" cy="1310.5" r="4.5"/><circle cx="866" cy="1312.1" r="4.5"/>
<circle cx="916" cy="1230.3" r="4.5"/><circle cx="916" cy="1303" r="4.5"/><circle cx="916" cy="1335" r="4.5"/>
<circle cx="961" cy="1303.1" r="4.5"/><circle cx="1002" cy="1286.5" r="4.5"/><circle cx="1012" cy="1286.5" r="4.5"/><circle cx="1051" cy="1277.8" r="4.5"/></g>
<g stroke="#000" stroke-width="1.6" fill="none">
<path d="M632,1405.4 H660 M640,1403 H652 M640,1408 H652"/>
<path d="M677,1387.8 H705 M685,1385 H697 M685,1391 H697"/>
<path d="M722,1360.4 H750 M730,1354.7 H742 M730,1366 H742 M736,1354.7 V1366"/>
<path d="M767,1352.2 H795 M775,1348 H787 M775,1356 H787 M781,1348 V1356"/>
<path d="M812,1319.5 H840 M820,1304 H832 M820,1335 H832 M826,1304 V1335"/>
<path d="M857,1304.8 H885 M865,1283 H877 M865,1327 H877 M871,1283 V1327"/>
<path d="M902,1289.2 H930 M910,1258 H922 M910,1320 H922 M916,1258 V1320"/>
<path d="M947,1303.1 H975 M992,1286.4 H1020 M1037,1277.8 H1065"/></g>
<!-- inset -->
<rect x="646" y="1430" width="204" height="128" fill="#fff" stroke="#000" stroke-width="1"/>
<g stroke="#000" stroke-width="1"><line x1="693" y1="1438" x2="693" y2="1531"/><line x1="693" y1="1531" x2="837" y2="1531"/>
<line x1="690" y1="1440" x2="693" y2="1440"/><line x1="690" y1="1463" x2="693" y2="1463"/><line x1="690" y1="1485" x2="693" y2="1485"/><line x1="690" y1="1508" x2="693" y2="1508"/>
<line x1="693" y1="1531" x2="693" y2="1534"/><line x1="721" y1="1531" x2="721" y2="1534"/><line x1="750" y1="1531" x2="750" y2="1534"/><line x1="779" y1="1531" x2="779" y2="1534"/><line x1="807" y1="1531" x2="807" y2="1534"/><line x1="836" y1="1531" x2="836" y2="1534"/></g>
<g font-size="7" text-anchor="end"><text x="688" y="1443" font-weight="normal">2000</text><text x="688" y="1466" font-weight="normal">1500</text><text x="688" y="1488" font-weight="normal">1000</text><text x="688" y="1511" font-weight="normal">500</text><text x="688" y="1534" font-weight="normal">0</text></g>
<g font-size="7" text-anchor="middle"><text x="693" y="1542" font-weight="normal">75</text><text x="721" y="1542" font-weight="normal">80</text><text x="750" y="1542" font-weight="normal">85</text><text x="779" y="1542" font-weight="normal">90</text><text x="807" y="1542" font-weight="normal">95</text></g>
<text x="765" y="1552" font-size="8" text-anchor="middle">Temperature [°C]</text>
<text transform="translate(659,1484) rotate(-90)" font-size="7.5" text-anchor="middle">Fluorescence [-R'(T)]</text>
<path d="M693,1513 C705,1510 715,1506 728,1490 C738,1472 741,1451 746,1453 C752,1456 758,1490 764,1504 C770,1512 774,1499 780,1502 C788,1508 792,1526 800,1530 L836,1531" fill="none" stroke="#3030f0" stroke-width="1.4"/>
</svg>
</body></html>
